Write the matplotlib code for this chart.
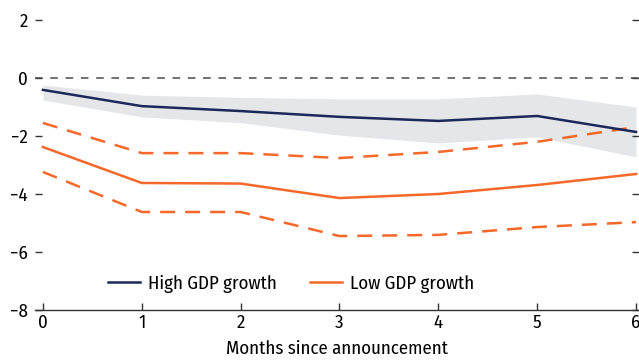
import matplotlib
matplotlib.use("Agg")
import matplotlib.pyplot as plt

plt.rcParams['font.family'] = ['Fira Sans Condensed', 'DejaVu Sans']

# Impulse responses by month since announcement
months = [0, 1, 2, 3, 4, 5, 6]
high_gdp = [-0.41, -0.97, -1.14, -1.34, -1.48, -1.31, -1.86]
high_lo = [-0.76, -1.34, -1.54, -1.97, -2.24, -2.03, -2.72]
high_hi = [-0.24, -0.59, -0.67, -0.72, -0.72, -0.55, -1.00]
low_gdp = [-2.38, -3.62, -3.64, -4.14, -4.00, -3.69, -3.31]
low_hi = [-1.55, -2.59, -2.59, -2.76, -2.55, -2.20, -1.69]
low_lo = [-3.24, -4.62, -4.62, -5.45, -5.41, -5.14, -4.97]
yticks = [2, 0, -2, -4, -6, -8]

navy = "#1c2859"
orange = "#f4692a"

W, H = 639, 364
fig = plt.figure(figsize=(W / 100, H / 100), dpi=100)
ax = fig.add_axes([35 / W, (H - 310) / H, (W - 35) / W, (310 - 2.6) / H])

ax.fill_between(months, high_lo, high_hi, color="#e5e6e8", lw=0, zorder=1)
ax.axhline(0, color="#4a4a4a", lw=1.1, ls=(0, (5, 5)), zorder=2)

ax.plot(months, high_gdp, color=navy, lw=1.8, label="High GDP growth", zorder=4)
ax.plot(months, low_gdp, color=orange, lw=1.8, label="Low GDP growth", zorder=3)
ax.plot(months, low_hi, color=orange, lw=1.8, ls=(0, (6, 4)), zorder=3)
ax.plot(months, low_lo, color=orange, lw=1.8, ls=(0, (6, 4)), zorder=3)

ax.set_xlim(-0.08, 6.03)
ax.set_ylim(-8, 2.6)
ax.set_xticks(months)
ax.set_yticks(yticks)
ax.set_yticklabels([str(v).replace("-", "\u2212") for v in yticks])

for side in ["top", "left", "right"]:
    ax.spines[side].set_visible(False)
ax.spines["bottom"].set_color("#333333")
ax.spines["bottom"].set_linewidth(1.0)

ax.tick_params(axis="x", direction="in", length=5, width=1, color="#333333",
               labelsize=13.5, pad=3)
ax.tick_params(axis="y", direction="in", length=5, width=1, color="#333333",
               labelsize=13.5, pad=5, right=True)
ax.set_xlabel("Months since announcement", fontsize=13.5, labelpad=6)

ax.legend(loc="center left", bbox_to_anchor=(0.105, 0.085), ncol=2, frameon=False,
          fontsize=13.5, handlelength=1.7, handletextpad=0.43, columnspacing=1.8,
          borderpad=0)

fig.savefig("out.png", dpi=100)
